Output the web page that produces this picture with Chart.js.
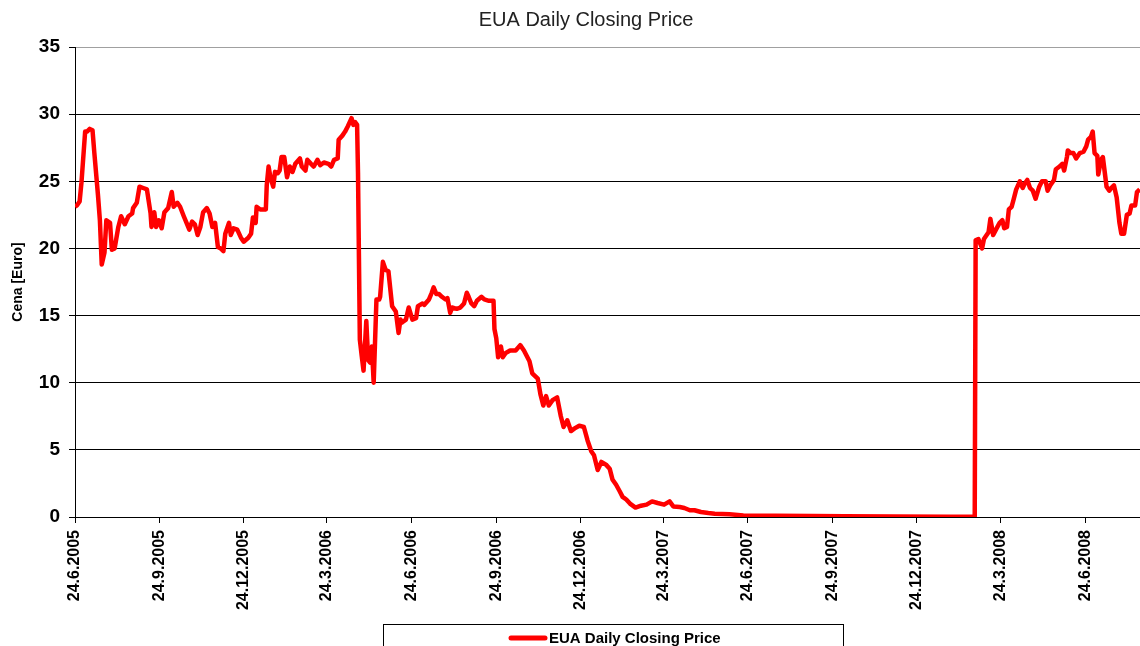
<!DOCTYPE html>
<html>
<head>
<meta charset="utf-8">
<title>EUA Daily Closing Price</title>
<script src="https://cdn.jsdelivr.net/npm/chart.js@4.4.0/dist/chart.umd.min.js"></script>
<style>
    html, body { margin: 0; padding: 0; background: #fff; }
    #wrap { width: 1140px; height: 646px; overflow: hidden; }
    canvas { display: block; }
</style>
</head>
<body>
<div id="wrap"><canvas id="euaChart" width="1172" height="680"></canvas></div>
<script>
// days since 24.6.2005
const dayOffsets = [
    0, 2, 5, 7, 11, 13, 16, 19, 21, 25, 27, 29, 32, 34, 38, 40, 43, 47, 50, 54,
    58, 62, 63, 67, 70, 74, 78, 82, 83, 86, 88, 91, 94, 97, 101, 105, 107, 111, 114, 118,
    121, 124, 127, 130, 133, 136, 139, 143, 146, 149, 152, 155, 158, 161, 163, 167, 169, 172, 176, 180,
    183, 188, 191, 193, 196, 197, 201, 207, 208, 210, 212, 215, 217, 220, 222, 224, 227, 230, 233, 236,
    239, 244, 246, 250, 252, 256, 259, 263, 266, 270, 275, 278, 281, 285, 286, 290, 293, 296, 300, 302,
    304, 306, 307, 309, 311, 313, 316, 318, 320, 322, 324, 327, 330, 331, 334, 337, 340, 344, 348, 351,
    353, 355, 359, 362, 366, 370, 372, 377, 379, 384, 387, 389, 392, 395, 398, 402, 404, 407, 409, 414,
    418, 422, 425, 427, 430, 433, 436, 441, 444, 449, 454, 455, 457, 459, 462, 464, 467, 472, 478, 483,
    487, 493, 496, 502, 505, 508, 511, 514, 518, 523, 527, 530, 534, 538, 542, 547, 552, 556, 560, 563,
    567, 571, 576, 580, 583, 587, 591, 594, 598, 602, 608, 614, 620, 626, 632, 639, 645, 649, 656, 661,
    667, 672, 679, 687, 694, 710, 725, 760, 800, 835, 890, 950, 976, 977, 980, 984, 986, 988, 991, 993,
    996, 999, 1003, 1006, 1008, 1011, 1013, 1016, 1018, 1021, 1025, 1028, 1030, 1033, 1036, 1039, 1042, 1046, 1049, 1053,
    1055, 1058, 1062, 1064, 1068, 1071, 1073, 1076, 1077, 1080, 1083, 1086, 1090, 1094, 1097, 1099, 1102, 1104, 1106, 1109,
    1110, 1113, 1115, 1117, 1119, 1122, 1124, 1127, 1130, 1133, 1135, 1138, 1141, 1144, 1146, 1150, 1152, 1155
];

const closingPrices = [
    23.1, 23.2, 23.5, 24.9, 28.7, 28.7, 28.9, 28.8, 27.1, 23.9, 22.1, 18.8, 19.7, 22.1, 21.9, 19.9, 20.0, 21.6, 22.4, 21.8,
    22.4, 22.6, 23.0, 23.4, 24.6, 24.5, 24.4, 22.6, 21.6, 22.7, 21.6, 22.1, 21.5, 22.7, 23.0, 24.2, 23.1, 23.4, 23.1, 22.4,
    21.9, 21.4, 22.0, 21.8, 21.0, 21.6, 22.7, 23.0, 22.6, 21.6, 21.9, 20.1, 20.0, 19.8, 21.1, 21.9, 21.0, 21.5, 21.4, 20.8,
    20.5, 20.8, 21.1, 22.3, 21.9, 23.1, 22.9, 22.9, 24.7, 26.1, 25.3, 24.6, 25.7, 25.6, 25.8, 26.8, 26.8, 25.3, 26.1, 25.7,
    26.3, 26.7, 26.1, 25.8, 26.6, 26.3, 26.1, 26.6, 26.2, 26.4, 26.3, 26.1, 26.6, 26.7, 28.1, 28.4, 28.7, 29.1, 29.7, 29.2,
    29.4, 29.2, 25.6, 13.2, 12.0, 10.9, 14.6, 11.7, 11.5, 12.7, 10.0, 16.2, 16.2, 16.4, 19.0, 18.4, 18.3, 15.7, 15.3, 13.7,
    14.7, 14.5, 14.7, 15.6, 14.7, 14.8, 15.7, 15.9, 15.8, 16.2, 16.7, 17.1, 16.6, 16.6, 16.4, 16.2, 16.3, 15.2, 15.6, 15.5,
    15.6, 15.9, 16.7, 16.4, 15.9, 15.7, 16.1, 16.4, 16.2, 16.1, 16.1, 14.0, 13.3, 11.9, 12.7, 11.9, 12.2, 12.4, 12.4, 12.8,
    12.4, 11.6, 10.7, 10.3, 9.1, 8.3, 9.0, 8.3, 8.7, 8.9, 7.5, 6.7, 7.2, 6.4, 6.6, 6.8, 6.7, 5.7, 4.9, 4.6,
    3.5, 4.1, 3.9, 3.6, 2.8, 2.4, 1.9, 1.5, 1.3, 1.0, 0.7, 0.84, 0.92, 1.16, 1.04, 0.92, 1.16, 0.79, 0.74, 0.67,
    0.5, 0.5, 0.37, 0.3, 0.25, 0.2, 0.12, 0.1, 0.08, 0.06, 0.03, 0.02, 0.02, 20.6, 20.7, 20.0, 20.7, 20.9, 21.2, 22.2,
    21.0, 21.4, 21.9, 22.1, 21.5, 21.6, 22.9, 23.1, 23.6, 24.4, 25.0, 24.5, 24.8, 25.1, 24.5, 24.3, 23.7, 24.6, 25.0, 25.0,
    24.3, 24.7, 25.1, 25.9, 26.1, 26.3, 25.8, 26.8, 27.3, 27.1, 27.1, 26.7, 27.1, 27.2, 27.6, 28.1, 28.3, 28.7, 27.1, 26.9,
    25.5, 26.6, 26.8, 25.7, 24.6, 24.3, 24.5, 24.7, 23.8, 21.9, 21.1, 21.1, 22.5, 22.6, 23.2, 23.2, 24.2, 24.4
];

const tickLabels = [
    '24.6.2005', '24.9.2005', '24.12.2005', '24.3.2006', '24.6.2006', '24.9.2006', '24.12.2006',
    '24.3.2007', '24.6.2007', '24.9.2007', '24.12.2007', '24.3.2008', '24.6.2008'
];
// axis runs a bit past the visible edge (the original is cropped on the right)
const axisEnd = '26.9.2008';

const yTicks = [0, 5, 10, 15, 20, 25, 30, 35];

const FONT = '"Liberation Sans", Arial, sans-serif';

const toDay = (label) => {
    const [d, m, y] = label.split('.').map(Number);
    return Math.round((Date.UTC(y, m - 1, d) - Date.UTC(2005, 5, 24)) / 86400000);
};
const tickDays = tickLabels.map(toDay);

// legend box like the excel one, partly cut by the bottom edge
const legendBox = {
    id: 'legendBox',
    afterDraw(chart) {
        const ctx = chart.ctx;
        ctx.save();
        ctx.strokeStyle = '#000';
        ctx.lineWidth = 1;
        ctx.strokeRect(383.5, 624.5, 460, 60);
        ctx.strokeStyle = '#ff0000';
        ctx.lineWidth = 5;
        ctx.lineCap = 'round';
        ctx.beginPath();
        ctx.moveTo(511, 638);
        ctx.lineTo(545, 638);
        ctx.stroke();
        ctx.fillStyle = '#000';
        ctx.font = 'bold 15px ' + FONT;
        ctx.textBaseline = 'middle';
        ctx.textAlign = 'left';
        ctx.fillText(chart.data.datasets[0].label, 549, 639);
        ctx.restore();
    }
};

document.addEventListener('DOMContentLoaded', () => {
    const ctx = document.getElementById('euaChart').getContext('2d');

    new Chart(ctx, {
        type: 'line',
        data: {
            datasets: [{
                label: 'EUA Daily Closing Price',
                data: dayOffsets.map((d, i) => ({ x: d, y: closingPrices[i] })),
                borderColor: '#ff0000',
                borderWidth: 4.5,
                borderJoinStyle: 'round',
                pointRadius: 0,
                tension: 0,
                fill: false
            }]
        },
        options: {
            responsive: false,
            animation: false,
            devicePixelRatio: 1,
            layout: { padding: 0 },
            plugins: {
                legend: { display: false },
                tooltip: { enabled: false },
                title: {
                    display: true,
                    text: 'EUA Daily Closing Price',
                    color: '#222',
                    font: { family: FONT, size: 20, weight: 'normal' },
                    padding: { top: 8, bottom: 15 }
                }
            },
            scales: {
                x: {
                    type: 'linear',
                    min: 0,
                    max: toDay(axisEnd),
                    afterFit: (s) => { s.height = 163; },
                    afterBuildTicks: (s) => { s.ticks = tickDays.map(v => ({ value: v })); },
                    ticks: {
                        autoSkip: false,
                        maxRotation: 90,
                        minRotation: 90,
                        padding: 7,
                        color: '#000',
                        font: { family: FONT, size: 16, weight: 'bold' },
                        callback: (value) => tickLabels[tickDays.indexOf(value)]
                    },
                    grid: { drawOnChartArea: false, drawTicks: true, tickLength: 6, color: '#000' },
                    border: { display: true, color: '#000', width: 1 }
                },
                y: {
                    min: 0,
                    max: 35,
                    afterFit: (s) => { s.width = 75; },
                    afterBuildTicks: (s) => { s.ticks = yTicks.map(v => ({ value: v })); },
                    ticks: {
                        padding: 9,
                        color: '#000',
                        font: { family: FONT, size: 19, weight: 'bold' }
                    },
                    grid: {
                        color: (c) => c.tick && c.tick.value === 35 ? '#a0a0a0' : '#000',
                        tickColor: '#000',
                        tickLength: 6,
                        lineWidth: 1
                    },
                    border: { display: true, color: '#000', width: 1 },
                    title: {
                        display: true,
                        text: 'Cena [Euro]',
                        color: '#000',
                        font: { family: FONT, size: 14, weight: 'bold' },
                        padding: { top: 10, bottom: 0 }
                    }
                }
            }
        },
        plugins: [legendBox]
    });
});
</script>
</body>
</html>
